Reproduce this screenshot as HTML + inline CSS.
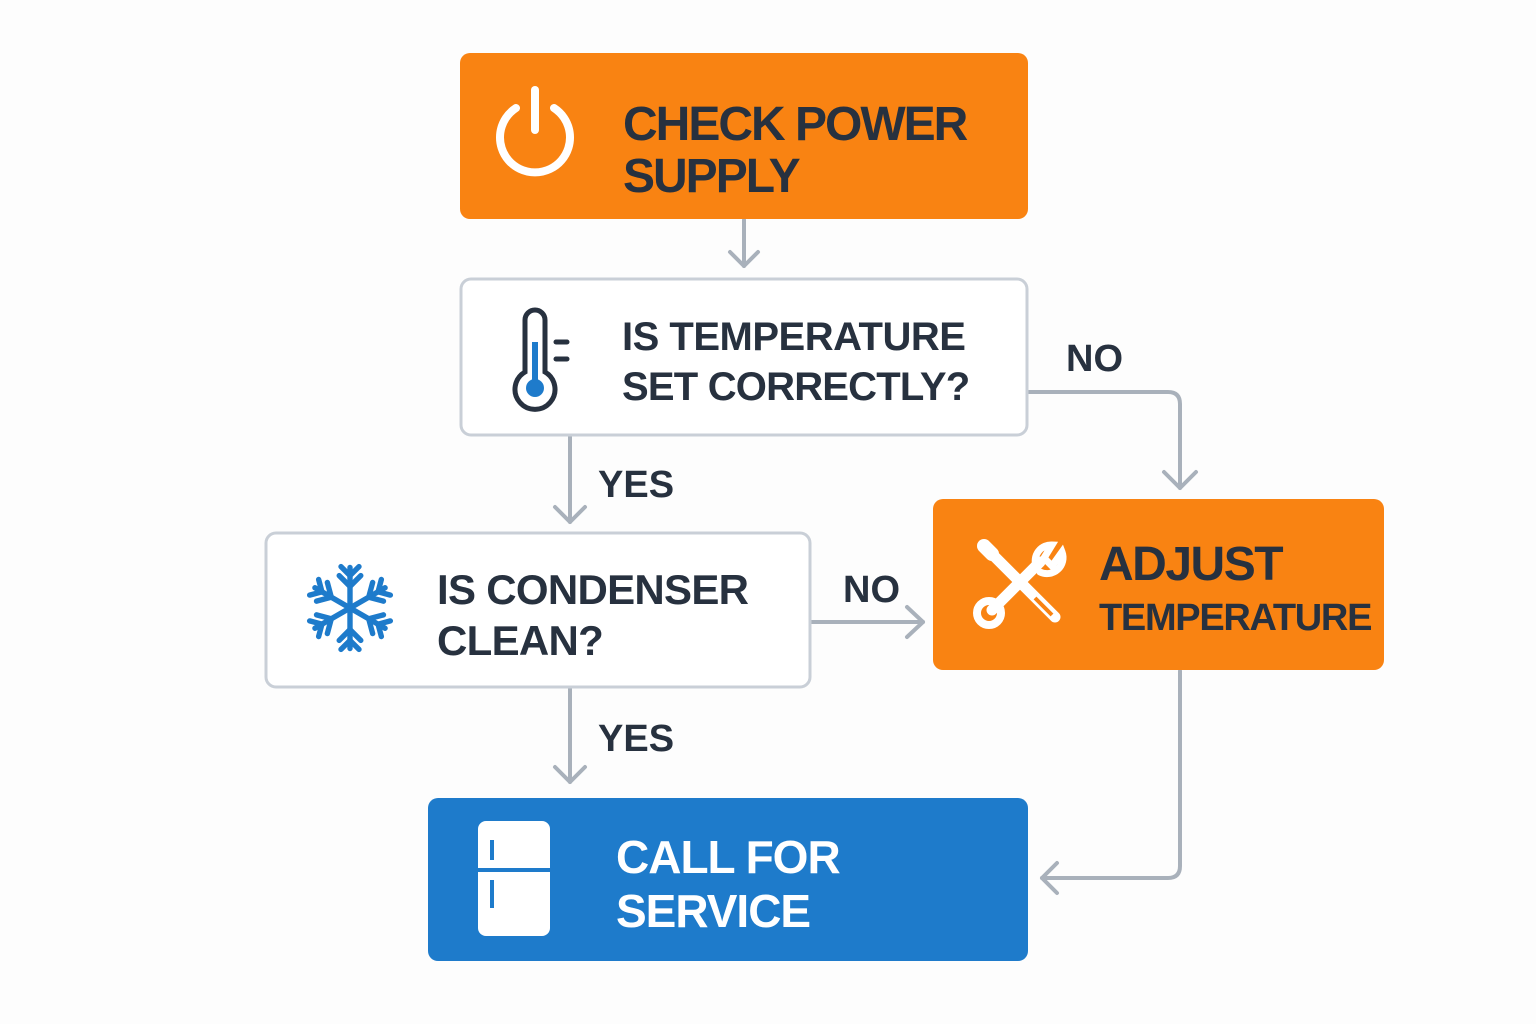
<!DOCTYPE html>
<html><head><meta charset="utf-8"><style>
html,body{margin:0;padding:0;background:#fdfdfd;}
svg{display:block;}
text{font-family:"Liberation Sans",Arial,sans-serif;font-weight:bold;fill:#27313f;}
</style></head><body>
<svg width="1536" height="1024" viewBox="0 0 1536 1024" xmlns="http://www.w3.org/2000/svg">
<g fill="none" stroke="#a9b1bb" stroke-width="4" stroke-linecap="round" stroke-linejoin="round">
<line x1="744" y1="220" x2="744" y2="266"/><polyline points="730,252 744,266 758,252"/>
<path d="M1029 392 H1168 Q1180 392 1180 404 V488"/><polyline points="1164,472 1180,488 1196,472"/>
<line x1="570" y1="437" x2="570" y2="522"/><polyline points="555,507 570,522 585,507"/>
<line x1="811" y1="622" x2="923" y2="622"/><polyline points="907,607 923,622 907,637"/>
<path d="M1180 671 V866 Q1180 878 1168 878 H1042"/><polyline points="1057,863 1042,878 1057,893"/>
<line x1="570" y1="689" x2="570" y2="782"/><polyline points="555,767 570,782 585,767"/>
</g>
<rect x="460" y="53" width="568" height="166" rx="10" fill="#f98312"/>
<rect x="461" y="279" width="566" height="156" rx="10" fill="#fff" stroke="#c9cfd7" stroke-width="3"/>
<rect x="266" y="533" width="544" height="154" rx="10" fill="#fff" stroke="#c9cfd7" stroke-width="3"/>
<rect x="933" y="499" width="451" height="171" rx="10" fill="#f98312"/>
<rect x="428" y="798" width="600" height="163" rx="10" fill="#1e7bcb"/>
<g fill="none" stroke="#fff" stroke-width="8" stroke-linecap="round">
<path d="M516 108 A35 35 0 1 0 554 108"/><line x1="535" y1="90" x2="535" y2="130"/>
</g>
<g fill="none" stroke="#27313f" stroke-width="5" stroke-linecap="round">
<path d="M525 372 V320 A10 10 0 0 1 545 320 V372 A20 20 0 1 1 525 372 Z"/>
<line x1="556" y1="342" x2="567" y2="342"/><line x1="556" y1="359" x2="567" y2="359"/>
</g>
<line x1="535" y1="342" x2="535" y2="385" stroke="#1e7bcb" stroke-width="6"/>
<circle cx="535" cy="388" r="9" fill="#1e7bcb"/>
<g stroke="#1e7bcb" stroke-width="6" stroke-linecap="round" fill="none" transform="translate(350 608) scale(0.9) translate(-350 -608)">
<g id="arm"><line x1="350" y1="608" x2="350" y2="563"/><polyline points="338,572 350,584 362,572"/><polyline points="340,562 350,572 360,562"/></g>
<use href="#arm" transform="rotate(60 350 608)"/><use href="#arm" transform="rotate(120 350 608)"/>
<use href="#arm" transform="rotate(180 350 608)"/><use href="#arm" transform="rotate(240 350 608)"/>
<use href="#arm" transform="rotate(300 350 608)"/>
</g>
<g stroke="#fff" stroke-linecap="round" fill="none">
<line x1="990" y1="552" x2="1055" y2="617" stroke-width="11"/>
<line x1="984" y1="546" x2="992" y2="554" stroke-width="14"/>
<line x1="992" y1="610" x2="1040" y2="562" stroke-width="11"/>
<circle cx="989" cy="613" r="12" stroke-width="8"/>
<path d="M1036 566 A16 16 0 0 1 1052 545 L1044 558 L1052 566 L1062 552 A16 16 0 0 1 1040 572" stroke-width="7"/>
</g>
<line x1="1035" y1="598" x2="1052" y2="615" stroke="#f98312" stroke-width="4"/>
<rect x="478" y="821" width="72" height="115" rx="8" fill="#fff"/>
<line x1="478" y1="870" x2="550" y2="870" stroke="#1e7bcb" stroke-width="4"/>
<line x1="492" y1="840" x2="492" y2="860" stroke="#1e7bcb" stroke-width="4"/>
<line x1="492" y1="880" x2="492" y2="908" stroke="#1e7bcb" stroke-width="4"/>
<text x="623" y="140" font-size="48" letter-spacing="-2">CHECK POWER</text>
<text x="623" y="192" font-size="48" letter-spacing="-2">SUPPLY</text>
<text x="622" y="350" font-size="40" letter-spacing="-0.5">IS TEMPERATURE</text>
<text x="622" y="400" font-size="40" letter-spacing="-0.8">SET CORRECTLY?</text>
<text x="437" y="604" font-size="42" letter-spacing="-0.7">IS CONDENSER</text>
<text x="437" y="655" font-size="42" letter-spacing="-0.7">CLEAN?</text>
<text x="1099" y="580" font-size="48" letter-spacing="-1.5">ADJUST</text>
<text x="1099" y="630" font-size="38" letter-spacing="-1.3">TEMPERATURE</text>
<text x="616" y="873" font-size="46" letter-spacing="-1" style="fill:#fff">CALL FOR</text>
<text x="616" y="927" font-size="46" letter-spacing="-1" style="fill:#fff">SERVICE</text>
<text x="1066" y="371" font-size="38">NO</text>
<text x="843" y="602" font-size="38">NO</text>
<text x="598" y="497" font-size="38">YES</text>
<text x="598" y="751" font-size="38">YES</text>
</svg>
</body></html>
